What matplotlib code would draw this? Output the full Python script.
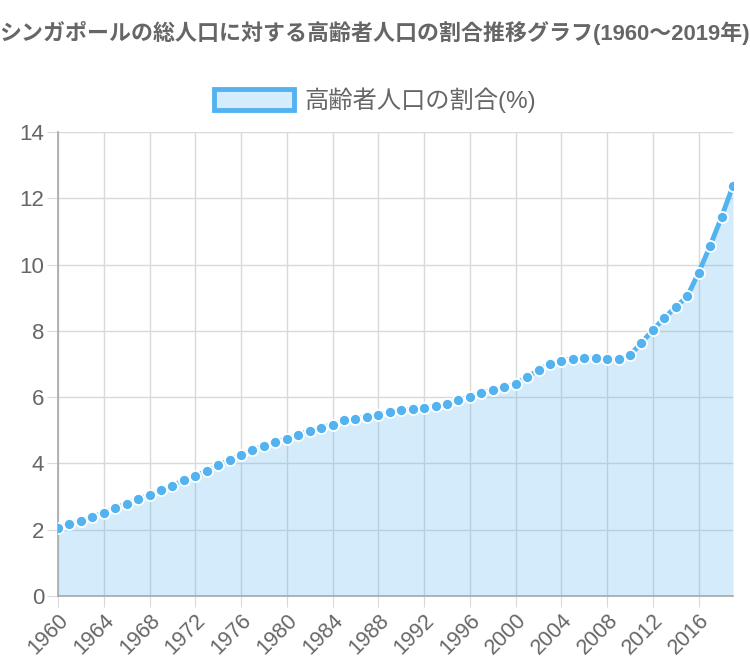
import matplotlib.pyplot as plt
from matplotlib.patches import Patch

# フォント: 数字は Liberation Sans, 日本語は Noto Sans CJK JP
plt.rcParams['font.family'] = ['Liberation Sans', 'Noto Sans CJK JP', 'DejaVu Sans']

# === データ ===
years = list(range(1960, 2020))
ratio = [2.06, 2.16, 2.25, 2.39, 2.51, 2.66, 2.78, 2.92, 3.04, 3.19,
         3.33, 3.49, 3.62, 3.77, 3.94, 4.10, 4.25, 4.40, 4.53, 4.64,
         4.75, 4.86, 4.98, 5.08, 5.17, 5.30, 5.35, 5.40, 5.46, 5.54,
         5.60, 5.64, 5.68, 5.73, 5.80, 5.91, 6.01, 6.13, 6.22, 6.30,
         6.39, 6.61, 6.81, 7.00, 7.10, 7.16, 7.19, 7.18, 7.14, 7.14,
         7.27, 7.64, 8.03, 8.39, 8.72, 9.04, 9.76, 10.56, 11.44, 12.38]
xticks = list(range(1960, 2017, 4))
yticks = list(range(0, 15, 2))

title = 'シンガポールの総人口に対する高齢者人口の割合推移グラフ(1960～2019年)'
label = '高齢者人口の割合(%)'

line_c = '#52b3f0'
text_c = '#666666'
grid_c = '#d9d9d9'

fig = plt.figure(figsize=(7.5, 6.66), dpi=100)
ax = fig.add_axes([58 / 750, 70 / 666, 675 / 750, 464 / 666])

# 半透明の塗りつぶし（グリッド線が透けて見える）
ax.fill_between(years, ratio, 0, color=line_c, alpha=0.25, linewidth=0, zorder=2)
ax.plot(years, ratio, '-', color=line_c, linewidth=3.5, zorder=3,
        marker='o', markersize=8, markerfacecolor=line_c,
        markeredgecolor='white', markeredgewidth=1.3)

ax.set_xlim(1960, 2019)
ax.set_ylim(0, 14)
ax.set_xticks(xticks)
ax.set_xticklabels([str(y) for y in xticks], rotation=45, ha='right',
                   rotation_mode='anchor')
ax.set_yticks(yticks)
ax.grid(True, color=grid_c, linewidth=1, zorder=0)
ax.set_axisbelow(True)

for s in ['top', 'right']:
    ax.spines[s].set_visible(False)
for s in ['left', 'bottom']:
    ax.spines[s].set_color('#a8a8a8')
    ax.spines[s].set_linewidth(1.2)

ax.tick_params(axis='x', colors=text_c, labelsize=15.5, length=8, color=grid_c, pad=2)
ax.tick_params(axis='y', colors=text_c, labelsize=16, length=8, color=grid_c, pad=2)

fig.text(0.5, 1 - 33 / 666, title, ha='center', va='center',
         fontsize=15.8, fontweight='bold', color=text_c)

handle = Patch(facecolor='#d5ecfc', edgecolor=line_c, linewidth=3.5)
fig.legend([handle], [label], loc='center', bbox_to_anchor=(0.5, 1 - 100 / 666),
           frameon=False, fontsize=17.5, labelcolor=text_c,
           handlelength=3.3, handleheight=1.0, handletextpad=0.45)

fig.savefig('out.png', dpi=100)
